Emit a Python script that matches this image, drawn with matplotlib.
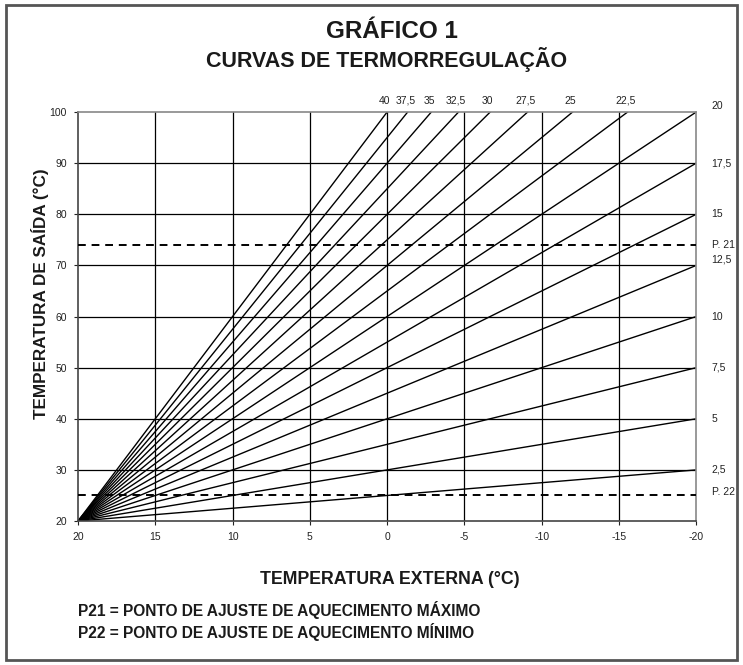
import matplotlib
matplotlib.use("Agg")
import matplotlib.pyplot as plt
from matplotlib.patches import Rectangle

plt.rcParams['font.family'] = ['Liberation Sans', 'DejaVu Sans']

# curve labels and where each straight curve ends (starts at 20 / 20)
curve_labels = ["40", "37,5", "35", "32,5", "30", "27,5", "25", "22,5",
                "20", "17,5", "15", "12,5", "10", "7,5", "5", "2,5"]
end_x = [0, -1.33, -2.86, -4.62, -6.67, -9.09, -12.0, -15.56,
         -20, -20, -20, -20, -20, -20, -20, -20]
end_y = [100, 100, 100, 100, 100, 100, 100, 100,
         100, 90, 80, 70, 60, 50, 40, 30]
start_x, start_y = 20, 20

p21, p22 = 74, 25
x_ticks = [20, 15, 10, 5, 0, -5, -10, -15, -20]
y_ticks = [20, 30, 40, 50, 60, 70, 80, 90, 100]

fig = plt.figure(figsize=(7.43, 6.65), dpi=100)
ax = fig.add_axes([0.105, 0.2165, 0.832, 0.615])

for x in x_ticks[1:-1]:
    ax.axvline(x, color='black', lw=0.9, zorder=1)
for y in y_ticks[1:-1]:
    ax.axhline(y, color='black', lw=0.9, zorder=1)

for lab, ex, ey in zip(curve_labels, end_x, end_y):
    ax.plot([start_x, ex], [start_y, ey], color='black', lw=1.0, zorder=2)
    if ey == 100 and ex != -20:
        ax.text(ex + 0.15, 101.2, lab, fontsize=7.5, ha='center', va='bottom', color='#222222')
    else:
        ax.text(-21.0, ey + (1.2 if ey in (100, 70) else 0), lab, fontsize=7.5,
                ha='left', va='center', color='#222222')

ax.axhline(p21, color='black', lw=1.4, ls=(0, (4, 3)), zorder=3)
ax.axhline(p22, color='black', lw=1.4, ls=(0, (4, 3)), zorder=3)
ax.text(-21.0, p21, "P. 21", fontsize=7.5, ha='left', va='center', color='#222222')
ax.text(-21.0, p22 + 0.6, "P. 22", fontsize=7.5, ha='left', va='center', color='#222222')

ax.set_xlim(20, -20)
ax.set_ylim(20, 100)
ax.set_xticks(x_ticks)
ax.set_xticklabels([str(v) for v in x_ticks])
ax.set_yticks(y_ticks)
ax.tick_params(labelsize=7.5, colors='#222222', length=3, width=0.8, pad=5)
ax.spines['left'].set_color('#444444')
ax.spines['bottom'].set_color('#444444')
ax.spines['top'].set_color('#888888')
ax.spines['right'].set_color('#888888')
for s in ax.spines.values():
    s.set_linewidth(1.2)

ax.set_xlabel("TEMPERATURA EXTERNA (°C)", fontsize=12.8, fontweight='bold', color='#1a1a1a')
ax.set_ylabel("TEMPERATURA DE SAÍDA (°C)", fontsize=12.3, fontweight='bold', color='#1a1a1a')
ax.xaxis.set_label_coords(0.505, -0.144)
ax.yaxis.set_label_coords(-0.061, 0.555)
ax.xaxis.label.set_va('center')
ax.yaxis.label.set_va('center')

fig.text(0.527, 0.953, "GRÁFICO 1", fontsize=17.5, fontweight='bold', ha='center', va='center', color='#1a1a1a')
fig.text(0.520, 0.91, "CURVAS DE TERMORREGULAÇÃO", fontsize=15.5, fontweight='bold', ha='center', va='center', color='#1a1a1a')
fig.text(0.105, 0.083, "P21 = PONTO DE AJUSTE DE AQUECIMENTO MÁXIMO", fontsize=11.2, fontweight='bold', va='center', color='#1a1a1a')
fig.text(0.105, 0.05, "P22 = PONTO DE AJUSTE DE AQUECIMENTO MÍNIMO", fontsize=11.2, fontweight='bold', va='center', color='#1a1a1a')

fig.patches.append(Rectangle((0.008, 0.008), 0.984, 0.984, transform=fig.transFigure,
                             fill=False, edgecolor='#555555', lw=2))

fig.savefig("out.png", dpi=100)
